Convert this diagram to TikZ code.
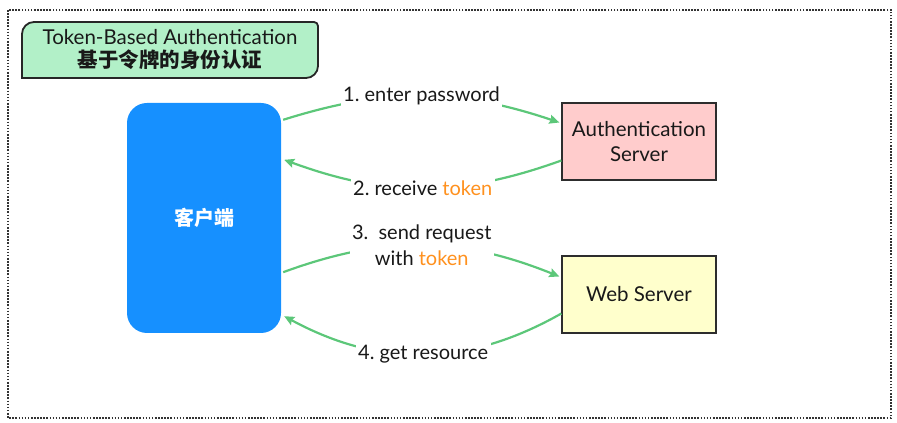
\documentclass[tikz,border=0pt]{standalone}
\usepackage{fontspec}
\setmainfont{Lato}
\newfontfamily\cjk{Noto Sans CJK SC}
\usetikzlibrary{arrows.meta,calc}
\frenchspacing
\definecolor{arrgreen}{RGB}{92,199,121}
\definecolor{titlefill}{RGB}{178,240,200}
\definecolor{clientblue}{RGB}{22,144,255}
\definecolor{authfill}{RGB}{255,204,204}
\definecolor{webfill}{RGB}{255,255,204}
\definecolor{tokorange}{RGB}{255,145,30}
\definecolor{edgegray}{RGB}{45,45,45}
\newcommand{\tok}[1]{\textcolor{tokorange}{#1}}
\tikzset{
  x=1pt, y=1pt,
  flow/.style={draw=arrgreen, line width=2.2pt, -{Stealth[length=10pt,width=9pt,inset=1.5pt]}},
  lbl/.style={fill=white, inner sep=2.5pt, font=\fontsize{20}{26}\selectfont\frenchspacing, text=black!90, align=center},
  server/.style={draw=edgegray, line width=1.3pt, minimum width=154pt, minimum height=77pt, inner sep=0pt, align=center, font=\fontsize{20.5}{25}\selectfont, text=black!90},
}
\begin{document}
\begin{tikzpicture}
\useasboundingbox (0,0) rectangle (897,423);
% outer dotted frame
\draw[draw=black!80, line width=2.2pt, dash pattern=on 1.6pt off 1.5pt] (8,413) rectangle (891,5);
% title box
\draw[draw=black!85, fill=titlefill, line width=1.8pt]
  (22,345) -- (22,389) arc[start angle=180,end angle=90,radius=12]
  -- (314,401) arc[start angle=90,end angle=0,radius=4]
  -- (318,357) arc[start angle=0,end angle=-90,radius=12] -- cycle;
\node[align=center, inner sep=0pt, text=black!90, font=\fontsize{20.5}{23}\selectfont] (title) at (170,373)
  {Token-Based Authentication\\
   {\cjk\bfseries 基于令牌的身份认证}};
% client
\node[fill=clientblue, rounded corners=20pt, minimum width=154pt, minimum height=230pt, inner sep=0pt,
      text=white, font=\cjk\bfseries\fontsize{20}{24}\selectfont] (client) at (204,205) {客户端};
% servers
\node[server, fill=authfill] (auth) at (639,281.5) {Authentication\\Server};
\node[server, fill=webfill] (web) at (639,128.5) {Web Server};
% flows
\draw[flow] ($(client.north east)+(2,-17)$) to[bend left=18]
  node[lbl] {1. enter password} ($(auth.west)+(-2,19)$);
\draw[flow] ($(auth.west)+(0,-19)$) to[bend left=20]
  node[lbl] {2. receive \tok{token}} ($(client.north east)+(3,-57)$);
\draw[flow] ($(client.south east)+(2,61)$) to[bend left=21]
  node[lbl] {3.\ \ send request\\with \tok{token}} ($(web.west)+(-2,18)$);
\draw[flow] ($(web.west)+(0,-19)$) to[bend left=29]
  node[lbl] {4. get resource} ($(client.south east)+(3,17)$);
\end{tikzpicture}
\end{document}
